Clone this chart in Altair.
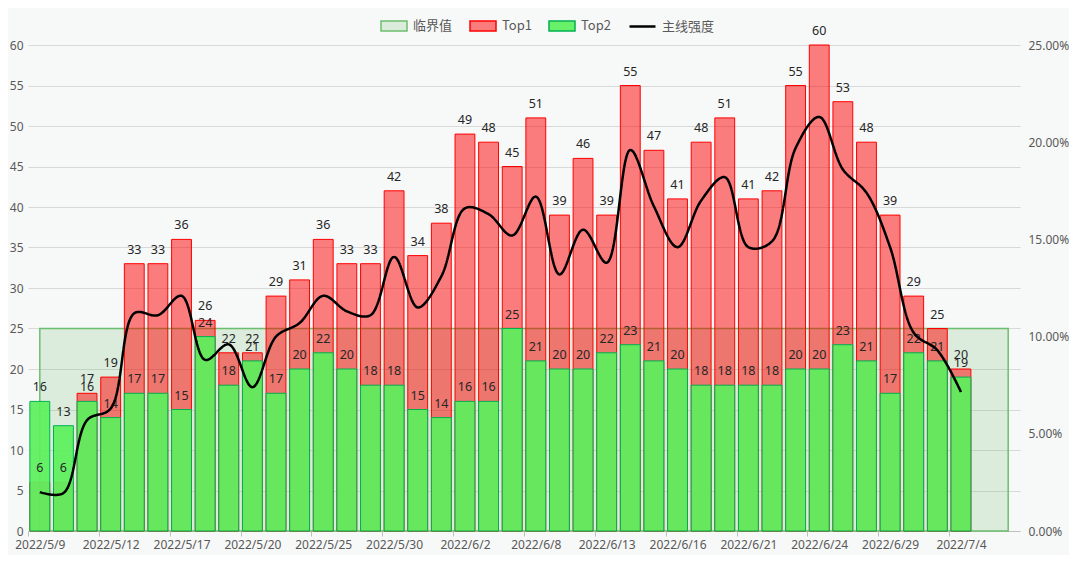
import altair as alt
import pandas as pd

# ---- data ----
dates = ["2022/5/9", "2022/5/10", "2022/5/11", "2022/5/12", "2022/5/13",
         "2022/5/16", "2022/5/17", "2022/5/18", "2022/5/19", "2022/5/20",
         "2022/5/23", "2022/5/24", "2022/5/25", "2022/5/26", "2022/5/27",
         "2022/5/30", "2022/5/31", "2022/6/1", "2022/6/2", "2022/6/6",
         "2022/6/7", "2022/6/8", "2022/6/9", "2022/6/10", "2022/6/13",
         "2022/6/14", "2022/6/15", "2022/6/16", "2022/6/17", "2022/6/20",
         "2022/6/21", "2022/6/22", "2022/6/23", "2022/6/24", "2022/6/27",
         "2022/6/28", "2022/6/29", "2022/6/30", "2022/7/1", "2022/7/4",
         "2022/7/5", "2022/7/6"]

tick_labels = ["2022/5/9", "2022/5/12", "2022/5/17", "2022/5/20", "2022/5/25",
               "2022/5/30", "2022/6/2", "2022/6/8", "2022/6/13", "2022/6/16",
               "2022/6/21", "2022/6/24", "2022/6/29", "2022/7/4"]

top1 = [6, 6, 17, 19, 33, 33, 36, 26, 22, 22, 29, 31, 36, 33, 33, 42, 34, 38, 49, 48,
        45, 51, 39, 46, 39, 55, 47, 41, 48, 51, 41, 42, 55, 60, 53, 48, 39, 29, 25, 20]

top2 = [16, 13, 16, 14, 17, 17, 15, 24, 18, 21, 17, 20, 22, 20, 18, 18, 15, 14, 16, 16,
        25, 21, 20, 20, 22, 23, 21, 20, 18, 18, 18, 18, 20, 20, 23, 21, 17, 22, 21, 19]

strength = [0.0200, 0.0195, 0.0570, 0.0630, 0.1120, 0.1110, 0.1210, 0.0880, 0.0960, 0.0740,
            0.1000, 0.1070, 0.1210, 0.1130, 0.1110, 0.1410, 0.1150, 0.1310, 0.1660, 0.1630,
            0.1520, 0.1720, 0.1320, 0.1550, 0.1380, 0.1960, 0.1670, 0.1460, 0.1700, 0.1820,
            0.1460, 0.1490, 0.1970, 0.2130, 0.1860, 0.1740, 0.1460, 0.1020, 0.0930, 0.0715]

threshold_value = 25

bar_series = ["临界值", "Top1", "Top2"]
line_series = ["主线强度"]

# ---- table ----
pad = [None] * (len(dates) - len(top1))
df = pd.DataFrame({
    "date": dates,
    "top1": top1 + pad,
    "top2": top2 + pad,
    "pct": strength + pad,
    "thresh": [threshold_value] * len(dates),
})

W, H = 992, 486
FONT = "Noto Sans"
CJK = "Noto Sans CJK SC"
AX_COL = "#595959"
step = W / len(dates)

x_enc = alt.X(
    "date:N", sort=dates,
    scale=alt.Scale(domain=dates, paddingInner=0.16, paddingOuter=0.08),
    axis=alt.Axis(values=tick_labels, title=None, labelAngle=0, grid=False,
                  domainColor="#bfbfbf", tickColor="#bfbfbf", tickSize=5,
                  tickOffset=-step / 2, labelOffset=step / 2,
                  labelColor=AX_COL, labelFont=FONT, labelFontSize=12,
                  labelPadding=3, labelOverlap=False),
)

yl_scale = alt.Scale(domain=[0, 60], nice=False)
left_axis = alt.Axis(values=list(range(0, 61, 5)), title=None, grid=True,
                     gridColor="#d9d9d9", domain=False, ticks=False, tickSize=0,
                     labelPadding=5, minExtent=20, maxExtent=20,
                     labelColor=AX_COL, labelFont=FONT, labelFontSize=12)
right_axis = alt.Axis(orient="right", values=[0, 0.05, 0.10, 0.15, 0.20, 0.25],
                      format=".2%", title=None, grid=False, domain=False,
                      ticks=False, tickSize=0, labelPadding=8,
                      labelColor=AX_COL, labelFont=FONT, labelFontSize=12)

fill_scale = alt.Scale(domain=bar_series, range=["#5cb85c2e", "#ff000080", "#5cf05ced"])
stroke_scale = alt.Scale(domain=bar_series, range=["#6cbd6c", "#ff0000", "#00b050"])

RECT = "M-1,-0.38H1V0.38H-1Z"
legend_a = alt.Legend(
    title=None, orient="none", legendX=352, legendY=-33, direction="horizontal",
    symbolType=RECT, symbolSize=676, symbolStrokeWidth=1.5, columnPadding=14,
    labelOffset=5, labelFont=CJK, labelFontSize=13, labelColor=AX_COL,
)
legend_b = alt.Legend(
    title=None, orient="none", legendX=600, legendY=-33, direction="horizontal",
    symbolType="stroke", symbolSize=676, symbolStrokeWidth=2.5,
    symbolStrokeColor="#000000", labelOffset=5, labelFont=CJK, labelFontSize=13,
    labelColor=AX_COL,
)

fill_enc = alt.Fill("series:N", scale=fill_scale, legend=legend_a)
stroke_enc = alt.Stroke("series:N", scale=stroke_scale, legend=legend_a)

base = alt.Chart(df)

area = base.transform_calculate(series="'临界值'").mark_area(strokeWidth=1.5).encode(
    x=x_enc, y=alt.Y("thresh:Q", scale=yl_scale, axis=left_axis),
    fill=fill_enc, stroke=stroke_enc)

bars1 = base.transform_calculate(series="'Top1'").mark_bar(strokeWidth=1).encode(
    x=x_enc, y=alt.Y("top1:Q", scale=yl_scale, axis=left_axis),
    fill=fill_enc, stroke=stroke_enc)

bars2 = base.transform_calculate(series="'Top2'").mark_bar(strokeWidth=1).encode(
    x=x_enc, y=alt.Y("top2:Q", scale=yl_scale, axis=left_axis),
    fill=fill_enc, stroke=stroke_enc)

txt1 = base.mark_text(baseline="bottom", dy=-7, font=FONT, fontSize=12.5, color="#262626").encode(
    x=x_enc, y=alt.Y("top1:Q", scale=yl_scale, axis=left_axis), text="top1:Q")

txt2 = base.mark_text(baseline="bottom", dy=-7, font=FONT, fontSize=12.5, color="#262626").encode(
    x=x_enc, y=alt.Y("top2:Q", scale=yl_scale, axis=left_axis), text="top2:Q")

left = alt.layer(area, bars1, bars2, txt1, txt2)

line = base.transform_calculate(series2="'主线强度'").mark_line(
    interpolate="catmull-rom", strokeWidth=2.5, color="#000000"
).encode(
    x=x_enc,
    y=alt.Y("pct:Q", scale=alt.Scale(domain=[0, 0.25], nice=False), axis=right_axis),
    strokeDash=alt.StrokeDash("series2:N",
                              scale=alt.Scale(domain=line_series, range=[[1, 0]]),
                              legend=legend_b),
)

chart = alt.layer(left, line).resolve_scale(y="independent").properties(
    width=W, height=H,
    padding={"left": 0, "top": 4, "right": 0, "bottom": 5},
    background="#f7f8f8",
).configure_view(stroke=None)

chart.save("out.html", embed_options={"renderer": "svg", "actions": False})
